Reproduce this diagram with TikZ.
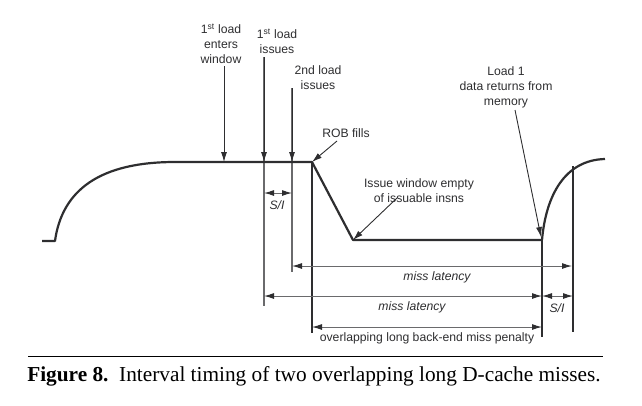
\documentclass[tikz,border=0pt]{standalone}
\usepackage{fontspec}
\setmainfont{Liberation Serif}
\newfontfamily\labelfont{Liberation Sans}
\usetikzlibrary{arrows.meta,positioning}

\definecolor{curvecol}{HTML}{2E2E30}
\definecolor{guidecol}{HTML}{6A6A6C}

\begin{document}
\begin{tikzpicture}[
    x=1pt, y=-1pt,
    label/.style={align=center, inner sep=0pt, font=\labelfont\fontsize{12.2}{15}\selectfont, text=curvecol},
    dimlabel/.style={label, font=\labelfont\itshape\fontsize{12.2}{15}\selectfont},
    curve/.style={draw=curvecol, line width=2.2pt, line join=round},
    guide/.style={draw=guidecol, line width=1.2pt},
    edge/.style={draw=curvecol, line width=1.8pt},
    pointer/.style={draw=curvecol, line width=0.9pt, -{Latex[length=10pt,width=6pt]}},
    dim/.style={draw=guidecol, line width=1pt, {Latex[length=10pt,width=6pt,color=curvecol]}-{Latex[length=10pt,width=6pt,color=curvecol]}}
]
    \useasboundingbox (0,0) rectangle (642,405);

    % Key points of the curve
    \coordinate (start) at (42,241);
    \coordinate (rise) at (55,241);
    \coordinate (flat) at (175,162);
    \coordinate (rob) at (312,162);
    \coordinate (empty) at (353,240);
    \coordinate (ret) at (542,240);
    \coordinate (top) at (605,159);

    % Guide lines
    \draw [guide] (264,57) -- (264,306);
    \draw [guide] (292,88) -- (292,272);
    \draw [edge] (rob) -- (312,333);
    \draw [edge] (ret) -- (542,337);
    \draw [edge] (573,166) -- (573,332);

    % IPC curve
    \draw [curve] (start) -- (rise) .. controls (62,190) and (100,162) .. (flat)
        -- (rob) -- (empty) -- (ret) .. controls (546,195) and (565,160) .. (top);

    % Event labels
    \node [label] (enter) at (221,44) {1\textsuperscript{st} load\\enters\\window};
    \node [label] (issue1) at (277,41) {1\textsuperscript{st} load\\issues};
    \node [label] (issue2) at (318,78) {2nd load\\issues};
    \node [label] (robfills) at (346,133) {ROB fills};
    \node [label] (load1) at (506,87) {Load 1\\data returns from\\memory};
    \node [label] (issuewin) at (419,191) {Issue window empty\\of issuable insns};

    % Event pointers
    \draw [pointer] (224,66) -- (224,162);
    \draw [pointer] (264,57) -- (264,162);
    \draw [pointer] (292,88) -- (292,162);
    \draw [pointer] (337,141) -- (rob);
    \draw [pointer] (515,110) -- (541,237);
    \draw [pointer] (397,198) -- (empty);

    % Interval dimensions
    \draw [dim] (264,193) -- (292,193);
    \node [dimlabel] (si1) at (277,205) {S/I};
    \draw [dim] (292,266) -- (572,266);
    \node [dimlabel] (lat1) at (437,277) {miss latency};
    \draw [dim] (264,296) -- (542,296);
    \node [dimlabel] (lat2) at (412,307) {miss latency};
    \draw [dim] (542,296) -- (573,296);
    \node [dimlabel] (si2) at (557,308) {S/I};
    \draw [dim] (312,327) -- (542,327);
    \node [label] (penalty) at (427,338) {overlapping long back-end miss penalty};

    % Caption
    \draw [line width=0.8pt] (28,356) -- (603,356);
    \node [font=\fontsize{21.3}{24}\selectfont, inner sep=0pt, anchor=base] (caption) at (314,381)
        {\textbf{Figure 8.}\ \ Interval timing of two overlapping long D-cache misses.};
\end{tikzpicture}
\end{document}
